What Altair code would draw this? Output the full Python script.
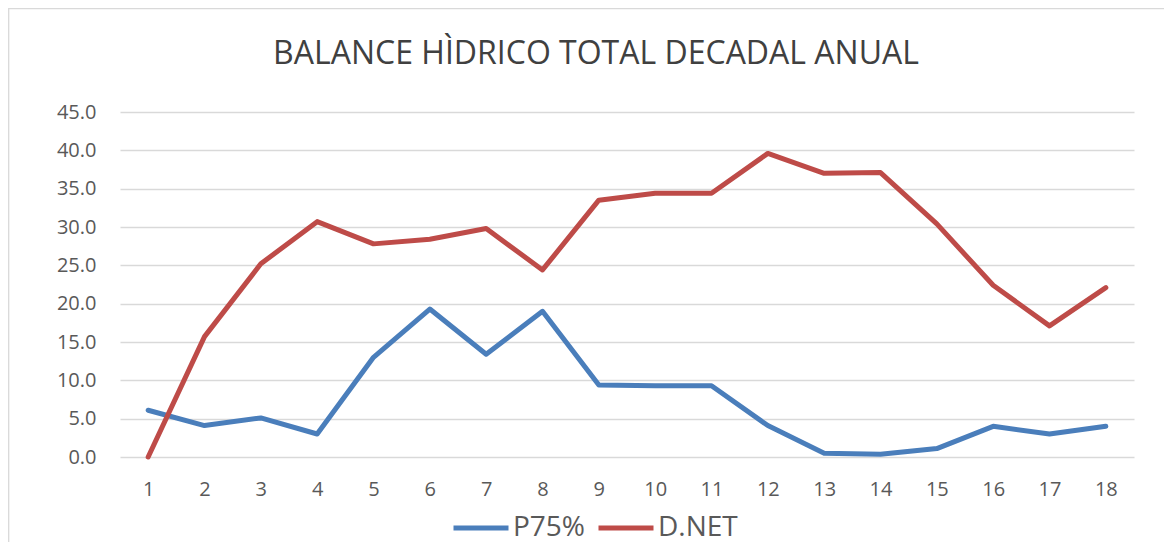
import altair as alt
import pandas as pd

decades = list(range(1, 19))
p75 = [6.1, 4.1, 5.1, 3.0, 13.0, 19.3, 13.4, 19.0, 9.4, 9.3, 9.3, 4.1, 0.5, 0.35, 1.1, 4.0, 3.0, 4.0]
dnet = [0.0, 15.7, 25.2, 30.7, 27.8, 28.4, 29.8, 24.4, 33.5, 34.4, 34.4, 39.6, 37.0, 37.1, 30.4, 22.4, 17.1, 22.1]
series_names = ["P75%", "D.NET"]
y_ticks = [0, 5, 10, 15, 20, 25, 30, 35, 40, 45]
title_text = "BALANCE HÌDRICO TOTAL DECADAL ANUAL"

rows = []
for d, a, b in zip(decades, p75, dnet):
    rows.append({"decada": d, "serie": series_names[0], "valor": a, "orden": 0})
    rows.append({"decada": d, "serie": series_names[1], "valor": b, "orden": 1})
df = pd.DataFrame(rows)

TEXT = "#595959"
FONT = "Open Sans"

border = alt.Chart(alt.Data(values=[{"k": 1}])).mark_rect(
    fill=None, stroke="#d9d9d9", strokeWidth=1.3
).encode(
    x=alt.value(-111.3), x2=alt.value(1080), y=alt.value(-103.3), y2=alt.value(600)
)

title = alt.Chart(alt.Data(values=[{"t": title_text}])).mark_text(
    fontSize=32, font=FONT, color="#404040", align="center", baseline="alphabetic"
).encode(
    text="t:N", x=alt.value(476), y=alt.value(-48.5)
)

lines = alt.Chart(df).mark_line(strokeWidth=5, strokeCap="round", strokeJoin="round").encode(
    x=alt.X("decada:Q",
            scale=alt.Scale(domain=[0.5, 18.5], nice=False, zero=False),
            axis=alt.Axis(values=decades, format="d", title=None, grid=False, ticks=False,
                          domain=False, labelPadding=22, labelFontSize=20, labelFont=FONT,
                          labelColor=TEXT)),
    y=alt.Y("valor:Q",
            scale=alt.Scale(domain=[0, 45], nice=False),
            axis=alt.Axis(values=y_ticks, format=".1f", title=None, grid=True, ticks=False,
                          domain=False, labelPadding=24, labelFontSize=20, labelFont=FONT,
                          labelColor=TEXT, gridColor="#d9d9d9", gridWidth=1.5)),
    color=alt.Color("serie:N",
                    scale=alt.Scale(domain=series_names, range=["#4A7EBB", "#BE4B48"]),
                    legend=alt.Legend(title=None, orient="none", direction="horizontal",
                                      legendX=331, legendY=386, symbolType="stroke",
                                      symbolSize=3025, symbolStrokeWidth=5,
                                      labelFontSize=28, labelFont=FONT, labelColor=TEXT,
                                      labelOffset=2, columnPadding=2, padding=0)),
    order="orden:O",
    detail="serie:N",
)

chart = alt.layer(border, title, lines).properties(
    width=1014,
    height=345,
    autosize=alt.AutoSizeParams(type="none"),
    padding={"left": 112, "top": 104, "right": 30, "bottom": 85},
).configure_view(stroke=None)

chart.save("out.html", embed_options={"renderer": "svg", "actions": False})
